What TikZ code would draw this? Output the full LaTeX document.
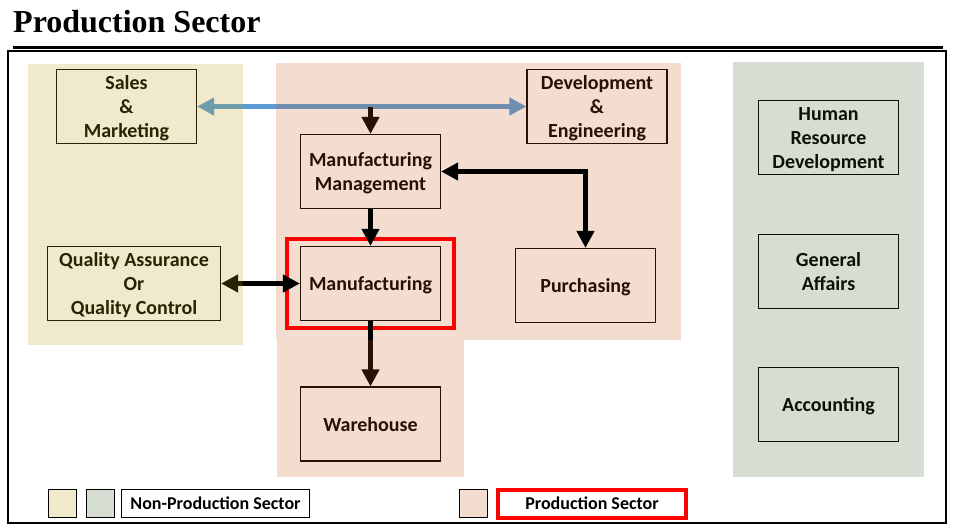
\documentclass[tikz,border=0pt]{standalone}
\usepackage{fontspec}
\newfontfamily\boxfont{Carlito}
\newfontfamily\titlefont{Liberation Serif}
\usetikzlibrary{arrows.meta,positioning,fit}
\definecolor{tantint}{RGB}{191,155,18}
\definecolor{pinktint}{RGB}{195,85,20}
\definecolor{greytint}{RGB}{50,85,35}
\definecolor{flowblue}{RGB}{91,155,213}
\tikzset{
    dept/.style={draw, line width=1.2pt, minimum width=140pt, minimum height=74pt,
        align=center, inner xsep=2pt, inner ysep=0pt, text height=19pt, text depth=5pt,
        font=\boxfont\bfseries\fontsize{20}{24}\selectfont},
    tworow/.style={text height=43pt},
    threerow/.style={text height=67pt},
    flow/.style={line width=5pt},
    tint/.style={fill=#1, fill opacity=0.2},
    swatch/.style={draw, line width=1pt, minimum width=28pt, minimum height=28pt, inner sep=0pt},
    legend/.style={draw, line width=1pt, minimum width=188pt, minimum height=28pt,
        inner sep=0pt, font=\boxfont\bfseries\fontsize{18}{20}\selectfont}
}
\begin{document}
\begin{tikzpicture}[x=1pt,y=-1pt,>={Triangle[width=17pt,length=17pt]},node distance=134pt,on grid]
            \useasboundingbox (0,0) rectangle (953,528);
            \node[dept, threerow] (sales) at (126.5,106.5) {Sales\\\&\\Marketing};
            \node[dept, threerow] (dev) [right=470.5pt of sales] {Development\\\&\\Engineering};
            \node[dept, tworow] (mgmt) at (370.5,171.5) {Manufacturing\\Management};
            \node[dept] (mfg) [below=112pt of mgmt] {Manufacturing};
            \node[dept] (wh) [below=140.5pt of mfg] {Warehouse};
            \node[dept, threerow, minimum width=173pt] (qa) [left=236.5pt of mfg] {Quality Assurance\\Or\\Quality Control};
            \node[dept] (purch) at (585.5,285.5) {Purchasing};
            \node[dept, threerow] (hr) at (828.5,137.5) {Human\\Resource\\Development};
            \node[dept, tworow] (ga) [below=of hr] {General\\Affairs};
            \node[dept] (acc) [below=133pt of ga] {Accounting};
            \coordinate (split) at (370.5,106.5);
            \path[flow]
                (sales) edge [<->, flowblue] (dev)
                (split) edge [->] (mgmt);
            \fill[tint=pinktint] (276,63) rectangle (681,340);
            \node[draw=red, line width=4pt, fit=(mfg), inner xsep=13pt, inner ysep=7pt] (mfgframe) {};
            \path[flow]
                (mgmt) edge [->] (mfg)
                (qa) edge [<->] (mfg)
                (mfg) edge [->] (wh);
            \draw[flow, <->] (mgmt) -| (purch);
            \fill[tint=tantint, fill opacity=0.22] (28,64) rectangle (243,345);
            \fill[tint=pinktint] (277,340) rectangle (464,477);
            \fill[tint=greytint] (733,62) rectangle (924,477);
            \node[anchor=base west, inner sep=0pt, font=\titlefont\bfseries\fontsize{32}{36}\selectfont] (title) at (13,32) {Production Sector};
            \draw[line width=3pt] (13,47.5) -- (943,47.5);
            \draw[line width=1.3pt] (8,51) rectangle (946,523);
            \node[swatch, fill=tantint!22] (legtan) at (62.5,503.5) {};
            \node[swatch, fill=greytint!20] (leggrey) at (100,503.5) {};
            \node[legend] (legnon) at (215.5,503.5) {Non-Production Sector};
            \node[swatch, fill=pinktint!20] (legpink) at (473.5,503.5) {};
            \node[legend, draw=red, line width=4pt] (legprod) at (592,503.5) {Production Sector};
        \end{tikzpicture}
\end{document}
